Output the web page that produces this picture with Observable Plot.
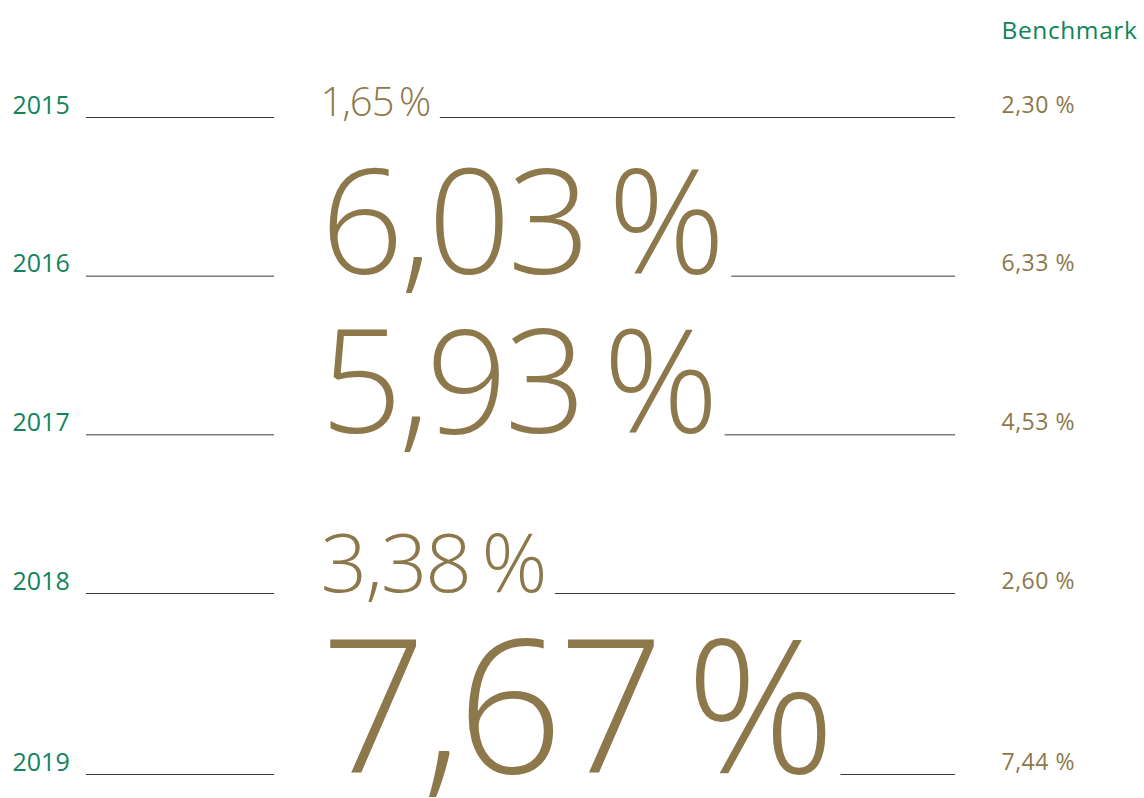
<!DOCTYPE html>
<html><head><meta charset="utf-8">
<script src="https://cdn.jsdelivr.net/npm/d3@7"></script>
<script src="https://cdn.jsdelivr.net/npm/@observablehq/plot@0.6"></script>
<style>html,body{margin:0;padding:0;background:#fff}#chart svg{display:block}
#chart .big text{letter-spacing:-0.025em}
#chart .bench text{letter-spacing:0.5px}
#chart .head text{letter-spacing:0.6px}</style>
</head><body><div id="chart"></div>
<script>
// ---- data ----
const years = [2015, 2016, 2017, 2018, 2019];
const returns = [1.65, 6.03, 5.93, 3.38, 7.67];
const benchmark = [2.30, 6.33, 4.53, 2.60, 7.44];
const headerLabel = "Benchmark";

// ---- style / layout ----
const GREEN = "#12845a", GOLD = "#8c784b", RULE = "#3a3a3a";
const FONT = "Open Sans";
const BIG_LS = -0.025; // em, same as CSS above
const fmt = v => v.toFixed(2).replace(".", ",");
const sizeOf = v => v * 24.2;
const col = {year: 12, lineL0: 86, lineL1: 274, num: 320, lineR1: 955, bench: 1001};

const ctx = document.createElement("canvas").getContext("2d");
const textWidth = (s, size) => {
  ctx.font = `300 ${size}px "${FONT}"`;
  return ctx.measureText(s).width + [...s].length * BIG_LS * size;
};

const rows = years.map((year, i) => {
  const label = fmt(returns[i]) + "\u2009%";
  const size = sizeOf(returns[i]);
  return {year, value: returns[i], bench: benchmark[i], label, size,
          rEnd: col.num + textWidth(label, size) + 10};
});

const chart = Plot.plot({
  width: 1144, height: 798, margin: 0,
  style: {background: "#fff", fontFamily: FONT},
  x: {type: "identity", axis: null},
  y: {type: "linear", domain: [2015, 2018, 2019], range: [117, 593, 774], axis: null},
  marks: [
    Plot.ruleY(rows, {y: "year", x1: col.lineL0, x2: col.lineL1, stroke: RULE, strokeWidth: 1}),
    Plot.ruleY(rows, {y: "year", x1: "rEnd", x2: col.lineR1, stroke: RULE, strokeWidth: 1}),
    Plot.text(rows, {x: col.year, y: "year", text: d => String(d.year), textAnchor: "start",
      lineAnchor: "bottom", dy: -4, fill: GREEN, fontSize: 25, fontFamily: FONT}),
    Plot.text(rows, {x: col.num, y: "year", text: "label", textAnchor: "start", className: "big",
      lineAnchor: "bottom", dy: -2, fill: GOLD, fontSize: "size", fontWeight: 300, fontFamily: FONT}),
    Plot.text(rows, {x: col.bench, y: "year", text: d => fmt(d.bench) + " %", textAnchor: "start", className: "bench",
      lineAnchor: "bottom", dy: -5, fill: GOLD, fontSize: 23, fontFamily: FONT}),
    Plot.text([headerLabel], {x: col.bench, frameAnchor: "top", text: d => d, textAnchor: "start", className: "head",
      lineAnchor: "top", dy: 21, fill: GREEN, fontSize: 24.5, fontFamily: FONT})
  ]
});
document.getElementById("chart").append(chart);
</script>
</body></html>
